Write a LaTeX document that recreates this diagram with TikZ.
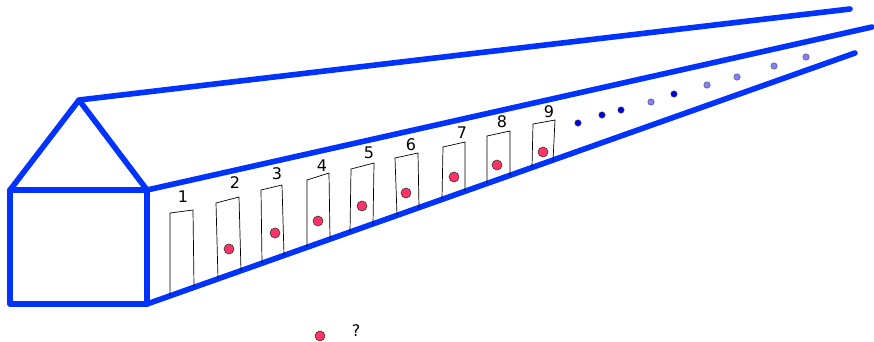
\documentclass[tikz,border=0pt]{standalone}
\usepackage{fontspec}
\setmainfont{DejaVu Sans}
\begin{document}
\begin{tikzpicture}[x=1pt,y=-1pt,
  wall/.style={draw={rgb,255:red,0;green,51;blue,255},line width=5.6pt,line cap=round,line join=round},
  door/.style={draw=black,line width=0.7pt},
  guest/.style={circle,draw=black!80,line width=0.6pt,fill={rgb,255:red,255;green,51;blue,102},inner sep=0pt,minimum size=10pt},
  busy/.style={circle,draw=black!70,line width=0.4pt,fill={rgb,255:red,0;green,0;blue,220},inner sep=0pt,minimum size=6.5pt},
  free/.style={circle,draw=black!70,line width=0.4pt,fill={rgb,255:red,128;green,128;blue,255},inner sep=0pt,minimum size=6.5pt},
  num/.style={font=\fontsize{16}{19}\selectfont,inner sep=0pt}]
\useasboundingbox (0,0) rectangle (874,341);

% corners of the building
\coordinate (fl) at (10,190);
\coordinate (fr) at (147,190);
\coordinate (bl) at (10,304);
\coordinate (br) at (147,304);
\coordinate (apex) at (79,100);
\coordinate (roofend) at (850,9);
\coordinate (topend) at (872,27);
\coordinate (botend) at (855,53);

% the building
\draw[wall] (fl) -- (fr) -- (br) -- (bl) -- cycle;
\draw[wall] (fl) -- (apex) -- (fr);
\draw[wall] (apex) -- (roofend);
\draw[wall] (fr) -- (topend);
\draw[wall] (br) -- (botend);

% rooms: left bottom, left top, right top, right bottom
\foreach \lbx/\lby/\ltx/\lty/\rtx/\rty/\rbx/\rby [count=\i] in {
  170/296/170/213/193/210/194/287,
  218/279/216/203/239/197/241/271,
  262/263/261/190/282/185/284/255,
  307/247/307/180/329/173/330/239,
  350/232/351/169/374/163/373/225,
  397/215/395/158/418/153/419/208,
  442/199/443/147/465/142/465/191,
  487/184/487/136/510/131/510/176,
  532/167/533/124/555/120/553/161}
  \draw[door] (\lbx,\lby) -- (\ltx,\lty) -- (\rtx,\rty) -- (\rbx,\rby);

% room numbers
\foreach \x/\y [count=\i] in {183/197,235/183,277/174,322/166,369/153,411/145,462/133,502/122,549/112}
  \node[num] (n\i) at (\x,\y) {\i};

% guests in rooms
\foreach \x/\y [count=\i] in {229/249,275/233,318/221,362/206,406/193,454/177,497/165,543/152}
  \node[guest] (g\i) at (\x,\y) {};

% rooms further down the corridor
\node[busy] (d1) at (578,123) {};
\node[busy] (d2) at (602,115) {};
\node[busy] (d3) at (621,110) {};
\node[free] (d4) at (651,102) {};
\node[busy] (d5) at (674,94) {};
\node[free] (d6) at (707,85) {};
\node[free] (d7) at (737,77) {};
\node[free] (d8) at (774,66) {};
\node[free] (d9) at (806,57) {};

% newcomer
\node[guest] (new) at (320,336) {};
\node[num] (ask) at (356,331) {?};
\end{tikzpicture}
\end{document}
